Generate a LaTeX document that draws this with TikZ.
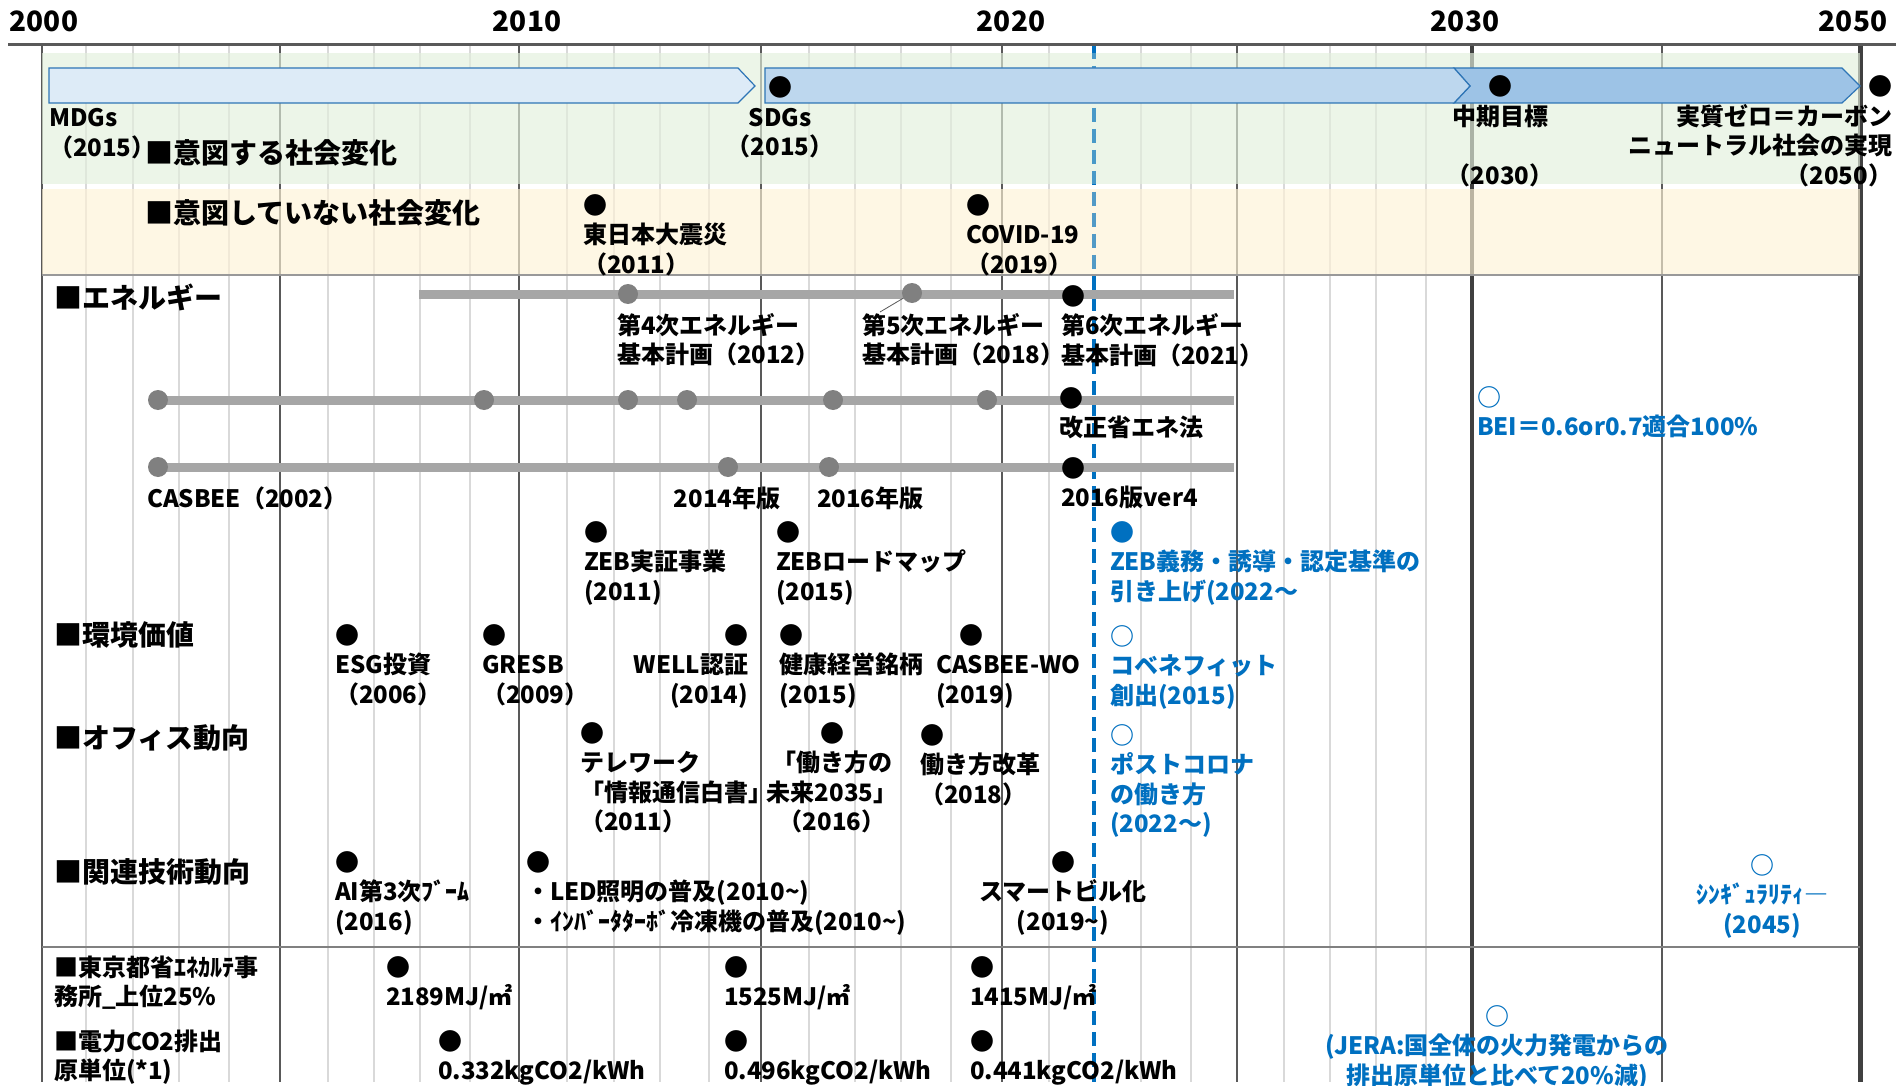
\documentclass[tikz,border=0pt]{standalone}
\usepackage{fontspec}
\setmainfont{Noto Sans CJK JP}
\definecolor{jblue}{HTML}{0070C0}
\definecolor{arrowline}{HTML}{2E75B6}
\definecolor{arrA}{HTML}{DDEBF7}
\definecolor{arrB}{HTML}{BDD7EE}
\definecolor{arrC}{HTML}{9DC3E6}
\definecolor{bandG}{HTML}{E3F0DD}
\definecolor{bandY}{HTML}{FEF3D6}
\definecolor{gridminor}{HTML}{D9D9D9}
\definecolor{gridmajor}{HTML}{595959}
\definecolor{gridheavy}{HTML}{404040}
\definecolor{bargray}{HTML}{A6A6A6}
\definecolor{dotgray}{HTML}{808080}
\begin{document}
\begin{tikzpicture}[x=1pt,y=-1pt,
  txt/.style={font=\bfseries\fontsize{24}{29.5}\selectfont, inner sep=0pt, outer sep=0pt},
  lbl/.style={txt, align=left, anchor=base west},
  lblc/.style={txt, align=center, anchor=base},
  lblr/.style={txt, align=right, anchor=base east},
  hdr/.style={font=\bfseries\fontsize{28}{32}\selectfont, inner sep=0pt, anchor=base west},
  yr/.style={font=\bfseries\fontsize{28}{32}\selectfont, inner sep=0pt, anchor=base},
  fut/.style={text=jblue},
  minorline/.style={gridminor, line width=1.5pt},
  majorline/.style={gridmajor, line width=2pt},
  barline/.style={bargray, line width=9pt},
  gdot/.style={circle, fill=dotgray, minimum size=20pt, inner sep=0pt},
  arrowshape/.style={draw=arrowline, line width=1.2pt},
  nowline/.style={jblue, line width=4pt, dash pattern=on 14pt off 7pt},
]
\useasboundingbox (0,0) rectangle (1896,1086);
\fill[white] (0,0) rectangle (1896,1086);
% grid
\foreach \x in {86,133,179,229,328,374,420,470,567,614,660,709,809,855,901,951,1049,1141,1191,1284,1330,1376,1426}
  \draw[minorline] (\x,45) -- (\x,1082);
\foreach \x in {42,280,519,761,1002,1237,1662}
  \draw[majorline] (\x,45) -- (\x,1082);
\draw[gridheavy, line width=4pt] (1472,45) -- (1472,1082);
\draw[gridheavy, line width=5pt] (1860,45) -- (1860,1082);
% current-year dashed line
\coordinate (dtop) at (1094,45);
\coordinate (dbot) at (1094,1082);
\draw[nowline] (dtop) -- (dbot);
% bands
\fill[bandG, fill opacity=0.65] (42,53) rectangle (1860,184);
\fill[bandY, fill opacity=0.65] (42,189) rectangle (1860,275);
\draw[nowline, draw opacity=0.5] (dtop) -- (dbot);
\draw[gray!80, line width=2pt] (42,275) -- (1860,275);
\draw[gray, line width=2pt] (42,947) -- (1860,947);
% axis
\draw[gridmajor, line width=3pt] (8,45) -- (1896,45);
% year labels
\node[yr] (y2000) at (44,32) {2000};
\node[yr] (y2010) at (527,32) {2010};
\node[yr] (y2020) at (1011,32) {2020};
\node[yr] (y2030) at (1465,32) {2030};
\node[yr] (y2050) at (1853,32) {2050};
% goal arrows
\filldraw[arrowshape, fill=arrA] (49,68) -- (738,68) -- (755,86) -- (738,103) -- (49,103) -- cycle;
\filldraw[arrowshape, fill=arrC] (1454,68) -- (1842,68) -- (1860,86) -- (1842,103) -- (1454,103) -- (1470,86) -- cycle;
\filldraw[arrowshape, fill=arrB] (765,68) -- (1454,68) -- (1470,86) -- (1454,103) -- (765,103) -- cycle;
% energy bars
\coordinate (b1s) at (419,294); \coordinate (b1e) at (1234,294);
\coordinate (b2s) at (158,400); \coordinate (b2e) at (1234,400);
\coordinate (b3s) at (158,467); \coordinate (b3e) at (1234,467);
\draw[barline] (b1s) -- (b1e);
\draw[barline] (b2s) -- (b2e);
\draw[barline] (b3s) -- (b3e);
\node[gdot] (g1a) at (628,294) {};
\node[gdot] (g1b) at (912,293) {};
\node[gdot] (g2a) at (158,400) {};
\node[gdot] (g2b) at (484,400) {};
\node[gdot] (g2c) at (628,400) {};
\node[gdot] (g2d) at (687,400) {};
\node[gdot] (g2e) at (833,400) {};
\node[gdot] (g2f) at (987,400) {};
\node[gdot] (g3a) at (158,467) {};
\node[gdot] (g3b) at (728,467) {};
\node[gdot] (g3c) at (829,467) {};
\coordinate (ld) at (880,312);
\draw[gridmajor, line width=0.8pt] (g1b) -- (ld);
% headers
\node[hdr] (hIntended) at (145,164) {■意図する社会変化};
\node[hdr] (hUnintended) at (145,224) {■意図していない社会変化};
\node[hdr] (hEnergy) at (54,308) {■エネルギー};
\node[hdr] (hEnv) at (54,645) {■環境価値};
\node[hdr] (hOffice) at (54,748) {■オフィス動向};
\node[hdr] (hTech) at (54,882) {■関連技術動向};
\node[lbl] (hTokyo) at (54,1005.5) {■東京都省ｴﾈｶﾙﾃ事\\務所\_上位25\%};
\node[lbl] (hCO2) at (54,1079.5) {■電力CO2排出\\原単位(*1)};
% social change
\node[lbl] (lMDG) at (49,156.5) {MDGs\\（2015）};
\node[lblc] (lSDG) at (780,156) {●\\SDGs\\（2015）};
\node[lblc] (lMid) at (1500,184.5) {●\\中期目標\\\mbox{}\\（2030）};
\node[lblr] (lZero) at (1892,184.5) {●\\実質ゼロ＝カーボン\\ニュートラル社会の実現\\（2050）};
\node[lbl] (lQuake) at (583,273) {●\\東日本大震災\\（2011）};
\node[lbl] (lCovid) at (966,273) {●\\COVID-19\\（2019）};
% energy
\node[lbl] (lE4) at (617,363.5) {第4次エネルギー\\基本計画（2012）};
\node[lbl] (lE5) at (862,363.5) {第5次エネルギー\\基本計画（2018）};
\node[lbl] (lE6) at (1061,364) {●\\第6次エネルギー\\基本計画（2021）};
\node[lbl] (lSaveE) at (1059,436.5) {●\\改正省エネ法};
\node[lbl, fut] (lBEI) at (1477,435.5) {○\\BEI＝0.6or0.7適合100\%};
\node[lbl] (lCasbee) at (147,507) {CASBEE（2002）};
\node[lblc] (l2014) at (727,507) {2014年版};
\node[lbl] (l2016) at (817,507) {2016年版};
\node[lbl] (l2016v4) at (1061,506.5) {●\\2016版ver4};
\node[lbl] (lZEB1) at (584,600) {●\\ZEB実証事業\\(2011)};
\node[lbl] (lZEB2) at (776,600) {●\\ZEBロードマップ\\(2015)};
\node[lbl, fut] (lZEB3) at (1110,600) {●\\ZEB義務・誘導・認定基準の\\引き上げ(2022～};
% environment value
\node[lbl] (lESG) at (335,703) {●\\ESG投資\\（2006）};
\node[lbl] (lGRESB) at (482,703) {●\\GRESB\\（2009）};
\node[lblr] (lWELL) at (748,703) {●\\WELL認証\\(2014)};
\node[lbl] (lHealth) at (779,703) {●\\健康経営銘柄\\(2015)};
\node[lbl] (lCASWO) at (936,703) {\hspace*{23pt}●\\CASBEE-WO\\(2019)};
\node[lbl, fut] (lCoBen) at (1110,704) {○\\コベネフィット\\創出(2015)};
% office
\node[lbl] (lTele) at (580,830.5) {●\\テレワーク\\「情報通信白書」\\（2011）};
\node[lblc] (lWork1) at (832,830.5) {●\\「働き方の\\未来2035」\\（2016）};
\node[lbl] (lWork2) at (920,803) {●\\働き方改革\\（2018）};
\node[lbl, fut] (lPost) at (1110,832.5) {○\\ポストコロナ\\の働き方\\(2022～)};
% technology
\node[lbl] (lAI) at (335,930) {●\\AI第3次ﾌﾞｰﾑ\\(2016)};
\node[lbl] (lLED) at (526,930) {●\\・LED照明の普及(2010\textasciitilde)\\・ｲﾝﾊﾞｰﾀﾀｰﾎﾞ冷凍機の普及(2010\textasciitilde)};
\node[lblc] (lSmart) at (1063,930) {●\\スマートビル化\\(2019\textasciitilde)};
\node[lblc, fut] (lSing) at (1762,933) {○\\ｼﾝｷﾞｭﾗﾘﾃｨ―\\(2045)};
% bottom rows
\node[lbl] (lMJ1) at (386,1005.5) {●\\2189MJ/㎡};
\node[lbl] (lMJ2) at (724,1005.5) {●\\1525MJ/㎡};
\node[lbl] (lMJ3) at (970,1005.5) {●\\1415MJ/㎡};
\node[lbl] (lCOa) at (438,1079.5) {●\\0.332kgCO2/kWh};
\node[lbl] (lCOb) at (724,1079.5) {●\\0.496kgCO2/kWh};
\node[lbl] (lCOc) at (970,1079.5) {●\\0.441kgCO2/kWh};
\node[lblc, fut] (lJERA) at (1497,1084) {○\\(JERA:国全体の火力発電からの\\排出原単位と比べて20\%減)};
\end{tikzpicture}
\end{document}
